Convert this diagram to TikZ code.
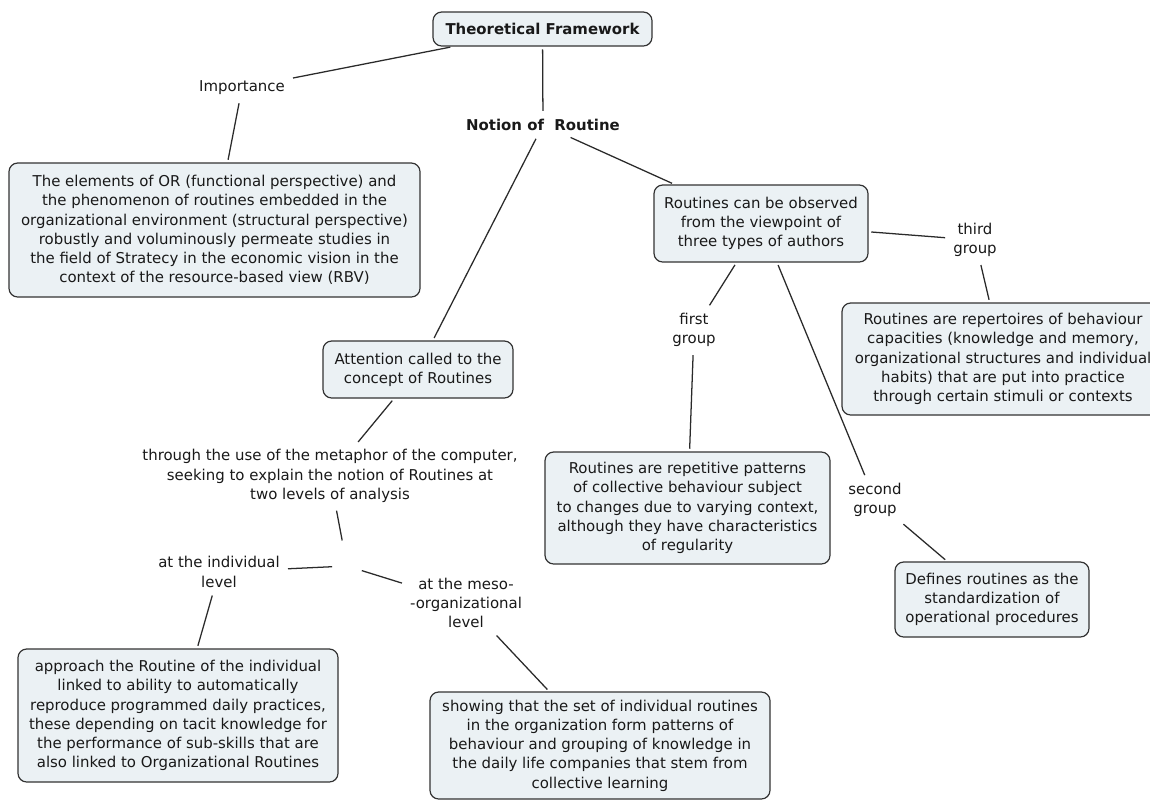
\documentclass[tikz,border=0pt]{standalone}
\usepackage{fontspec}
\setmainfont{DejaVu Sans}
\usepackage{tikz}
\definecolor{cmapfill}{HTML}{EBF1F4}
\definecolor{cmapdraw}{HTML}{333333}
\definecolor{cmaplink}{HTML}{2A2A2A}
\newcommand{\cmapfont}{\fontsize{11.2}{14.4}\selectfont}
\tikzset{
  concept/.style 2 args={rectangle,rounded corners=6.5pt,minimum width=#1,minimum height=#2,
    draw=cmapdraw,fill=cmapfill,text=black!90,font=\cmapfont,
    align=center,inner sep=2pt,line width=0.9pt},
  linkphrase/.style={font=\cmapfont,text=black!90,align=center,inner sep=4pt},
  hubpoint/.style={minimum width=18pt,minimum height=34pt,inner sep=0pt},
  cmaplink/.style={draw=cmaplink,line width=0.95pt,shorten <=2pt,shorten >=2pt},
}

\begin{document}
\begin{tikzpicture}[x=0.75pt,y=-0.75pt]
  \fill[white] (0,0) rectangle (1150,801);
  \useasboundingbox (0,0) rectangle (1150,801);
  % concepts
  \node[concept={164.25pt}{25.5pt},font=\cmapfont\bfseries] (frame) at (542.5,29) {Theoretical Framework};
  \node[concept={308.25pt}{100.5pt}] (elements) at (214.5,230) {
    The elements of OR (functional perspective) and\\
    the phenomenon of routines embedded in the\\
    organizational environment (structural perspective)\\
    robustly and voluminously permeate studies in\\
    the field of Stratecy in the economic vision in the\\
    context of the resource-based view (RBV)};
  \node[concept={160.5pt}{57.75pt}] (observed) at (761,223.5) {
    Routines can be observed\\from the viewpoint of\\three types of authors};
  \node[concept={241.5pt}{84pt}] (repert) at (1003,359) {
    Routines are repertoires of behaviour\\
    capacities (knowledge and memory,\\
    organizational structures and individual\\
    habits) that are put into practice\\
    through certain stimuli or contexts};
  \node[concept={213.75pt}{84pt}] (repet) at (687.5,508) {
    Routines are repetitive patterns\\
    of collective behaviour subject\\
    to changes due to varying context,\\
    although they have characteristics\\
    of regularity};
  \node[concept={145.5pt}{56.25pt}] (defines) at (992,599.5) {
    Defines routines as the\\standardization of\\operational procedures};
  \node[concept={142.5pt}{42.75pt}] (attention) at (418,369.5) {
    Attention called to the\\concept of Routines};
  \node[concept={240pt}{99.75pt}] (approach) at (178,715.5) {
    approach the Routine of the individual\\
    linked to ability to automatically\\
    reproduce programmed daily practices,\\
    these depending on tacit knowledge for\\
    the performance of sub-skills that are\\
    also linked to Organizational Routines};
  \node[concept={255pt}{80.25pt}] (showing) at (600,745.5) {
    showing that the set of individual routines\\
    in the organization form patterns of\\
    behaviour and grouping of knowledge in\\
    the daily life companies that stem from\\
    collective learning};
  % linking phrases
  \node[linkphrase] (importance) at (242,88) {Importance};
  \node[linkphrase,font=\cmapfont\bfseries] (notion) at (543,125) {Notion of~ Routine};
  \node[linkphrase] (third) at (975,240) {third\\group};
  \node[linkphrase] (first) at (694,330) {first\\group};
  \node[linkphrase] (second) at (875,500) {second\\group};
  \node[linkphrase] (through) at (330,476) {
    through the use of the metaphor of the computer,\\
    seeking to explain the notion of Routines at\\
    two levels of analysis};
  \node[hubpoint] (hub) at (347,566) {};
  \node[linkphrase] (indiv) at (219,572) {at the individual\\level};
  \node[linkphrase] (meso) at (466,603) {at the meso-\\-organizational\\level};
  % links
  \draw[cmaplink] (frame) -- (importance);
  \draw[cmaplink] (importance) -- (elements);
  \draw[cmaplink] (frame) -- (notion);
  \draw[cmaplink] (notion) -- (attention);
  \draw[cmaplink] (notion) -- (observed);
  \draw[cmaplink] (observed) -- (third);
  \draw[cmaplink] (third) -- (repert);
  \draw[cmaplink] (observed) -- (first);
  \draw[cmaplink] (first) -- (repet);
  \draw[cmaplink] (observed) -- (second);
  \draw[cmaplink] (second) -- (defines);
  \draw[cmaplink] (attention) -- (through);
  \draw[cmaplink] (through) -- (hub);
  \draw[cmaplink] (hub) -- (indiv);
  \draw[cmaplink] (hub) -- (meso);
  \draw[cmaplink] (indiv) -- (approach);
  \draw[cmaplink] (meso) -- (showing);
\end{tikzpicture}
\end{document}
